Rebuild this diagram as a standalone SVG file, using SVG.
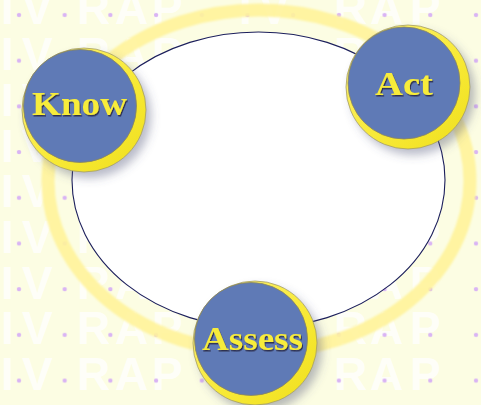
<svg xmlns="http://www.w3.org/2000/svg" width="481" height="405" viewBox="0 0 481 405">
  <defs>
    <style>
      .wm { font-family: "Liberation Sans", Arial, sans-serif; font-weight: bold; font-size: 46px; fill: #ffffff; fill-opacity: 0.8; }
      .lbl { font-family: "Liberation Serif", "Times New Roman", serif; font-weight: bold; font-size: 34px; fill: #f7ec3a; text-anchor: middle; filter: url(#txtShadow); }
      .shadow { fill: #4e5478; fill-opacity: 0.4; filter: url(#blur); }
      .outer { fill: url(#yel); stroke: #a39d68; stroke-width: 0.8; }
      .inner { fill: #5f7ab6; stroke: #8c875c; stroke-width: 0.8; }
    </style>
    <pattern id="dots" patternUnits="userSpaceOnUse" x="0" y="0" width="45.7" height="45.7">
      <circle cx="19" cy="15" r="2.2" fill="#d9b4f4"/>
    </pattern>
    <linearGradient id="yel" x1="0" y1="0" x2="1" y2="1">
      <stop offset="0" stop-color="#fff47e"/>
      <stop offset="0.55" stop-color="#f8ea38"/>
      <stop offset="1" stop-color="#efdf1c"/>
    </linearGradient>
    <filter id="blur" x="-30%" y="-30%" width="160%" height="160%">
      <feGaussianBlur stdDeviation="5"/>
    </filter>
    <filter id="soft" x="-10%" y="-10%" width="120%" height="120%">
      <feGaussianBlur stdDeviation="1"/>
    </filter>
    <filter id="txtShadow" x="-10%" y="-20%" width="130%" height="150%">
      <feDropShadow dx="1" dy="1.5" stdDeviation="0.6" flood-color="#2a2c44" flood-opacity="0.9"/>
    </filter>
    <text id="wmrow" class="wm" x="1 22 77 115 152 239 259 334 370 410">IVRAPIVRAP</text>
  </defs>

  <!-- background -->
  <rect x="0" y="0" width="481" height="405" fill="#fcfde3"/>
  <g id="watermark">
    <use href="#wmrow" y="24.4"/>
    <use href="#wmrow" y="70.1"/>
    <use href="#wmrow" y="115.8"/>
    <use href="#wmrow" y="161.5"/>
    <use href="#wmrow" y="207.2"/>
    <use href="#wmrow" y="252.9"/>
    <use href="#wmrow" y="298.6"/>
    <use href="#wmrow" y="344.3"/>
    <use href="#wmrow" y="390"/>
  </g>
  <rect x="0" y="0" width="481" height="405" fill="url(#dots)"/>

  <!-- pale ring -->
  <ellipse cx="259" cy="181" rx="211" ry="171" fill="none" stroke="#fff39a" stroke-opacity="0.9" stroke-width="13" filter="url(#soft)"/>

  <!-- cycle connector -->
  <g id="connectors">
    <ellipse cx="258.5" cy="180" rx="186.5" ry="148" fill="#ffffff" stroke="#1c1f5c" stroke-width="1.1"/>
  </g>

  <g id="know">
    <circle class="shadow" cx="89" cy="116" r="62"/>
    <circle class="outer" cx="84" cy="110" r="62"/>
    <circle class="inner" cx="80" cy="106" r="56.5"/>
    <text class="lbl" x="79.5" y="115" textLength="95" lengthAdjust="spacingAndGlyphs">Know</text>
  </g>

  <g id="act">
    <circle class="shadow" cx="413" cy="93" r="62"/>
    <circle class="outer" cx="408" cy="87" r="62"/>
    <circle class="inner" cx="404" cy="83" r="56"/>
    <text class="lbl" x="404" y="95" textLength="58" lengthAdjust="spacingAndGlyphs">Act</text>
  </g>

  <g id="assess">
    <circle class="shadow" cx="260" cy="349" r="62"/>
    <circle class="outer" cx="255" cy="343" r="62"/>
    <circle class="inner" cx="251" cy="339" r="56.5"/>
    <text class="lbl" x="252.5" y="350" textLength="101" lengthAdjust="spacingAndGlyphs">Assess</text>
  </g>
</svg>
